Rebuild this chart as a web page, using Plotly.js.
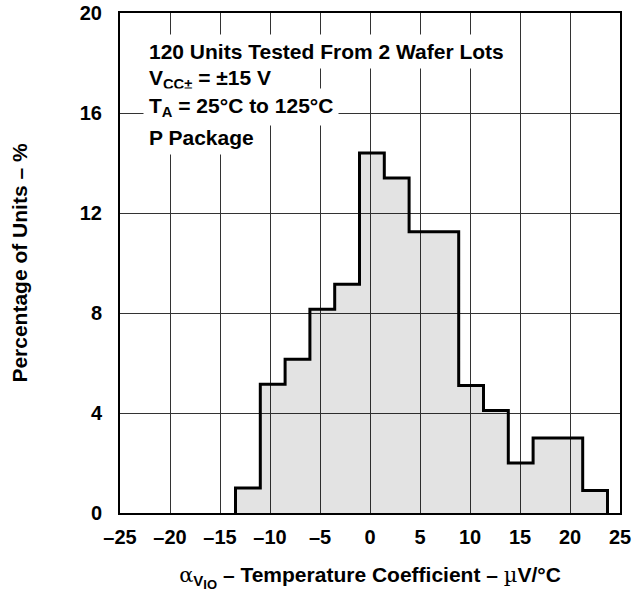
<!DOCTYPE html>
<html>
<head>
<meta charset="utf-8">
<script src="https://cdn.plot.ly/plotly-3.0.1.min.js"></script>
<style>
html,body{margin:0;padding:0;background:#fff;}
#chart{width:636px;height:594px;}
</style>
</head>
<body>
<div id="chart"></div>
<script>
// Histogram bin edges (µV/°C) and percentage of units per bin
const binEdges = [-13.45, -10.97, -8.49, -6.01, -3.53, -1.05, 1.43, 3.91, 6.39, 8.87, 11.35, 13.83, 16.31, 18.79, 21.27, 23.75];
const percentUnits = [1.0, 5.15, 6.15, 8.15, 9.15, 14.4, 13.4, 11.25, 11.25, 5.1, 4.1, 2.0, 3.0, 3.0, 0.9];
const xTickVals = [-25, -20, -15, -10, -5, 0, 5, 10, 15, 20, 25];
const yTickVals = [0, 4, 8, 12, 16, 20];
const noteLines = [
  "120 Units Tested From 2 Wafer Lots",
  "V<sub>CC±</sub> = ±15 V",
  "T<sub>A</sub> = 25°C to 125°C",
  "P Package"
];
const noteY = [0.923, 0.869, 0.813, 0.752];

// build step outline from the bin data
const stepX = [binEdges[0]].concat(binEdges);
const stepY = [0].concat(percentUnits).concat([0]);

const FONT = "Liberation Sans, Arial, Helvetica, sans-serif";
const SERIF = "font-family:'DejaVu Serif',serif;font-weight:normal";

const trace = {
  x: stepX,
  y: stepY,
  type: "scatter",
  mode: "lines",
  line: {shape: "hv", color: "#000", width: 3},
  fill: "tozeroy",
  fillcolor: "rgba(0,0,0,0.11)",
  hoverinfo: "skip"
};

const annotations = noteLines.map((t, i) => ({
  text: "<b>" + t + "</b>",
  xref: "paper", yref: "paper",
  x: 0.046, y: noteY[i],
  xanchor: "left", yanchor: "middle",
  showarrow: false,
  bgcolor: "#fff",
  borderpad: 5,
  font: {family: FONT, size: 21, color: "#000"}
}));

const layout = {
  width: 636, height: 594,
  margin: {l: 120, r: 16, t: 13, b: 81},
  paper_bgcolor: "#fff",
  plot_bgcolor: "#fff",
  showlegend: false,
  font: {family: FONT, color: "#000"},
  xaxis: {
    range: [-25, 25],
    tickvals: xTickVals,
    ticktext: xTickVals.map(v => v < 0 ? "–" + Math.abs(v) : String(v)),
    showgrid: true, gridcolor: "#333", gridwidth: 1,
    zeroline: false,
    showline: true, linecolor: "#000", linewidth: 2, mirror: true,
    ticks: "", ticklabelstandoff: 5,
    tickfont: {family: FONT, size: 20, color: "#000", weight: "bold"},
    title: {
      text: "<span style=\"" + SERIF + "\">α</span><sub><span style=\"font-size:15px\">V</span><sub><span style=\"font-size:13px\">IO</span></sub></sub> – Temperature Coefficient – <span style=\"" + SERIF + "\">µ</span>V/°C",
      font: {family: FONT, size: 21, color: "#000", weight: "bold"},
      standoff: 20
    },
    fixedrange: true
  },
  yaxis: {
    range: [0, 20],
    tickvals: yTickVals,
    showgrid: true, gridcolor: "#333", gridwidth: 1,
    zeroline: false,
    showline: true, linecolor: "#000", linewidth: 2, mirror: true,
    ticks: "", ticklabelstandoff: 12,
    tickfont: {family: FONT, size: 20, color: "#000", weight: "bold"},
    title: {
      text: "Percentage of Units – %",
      font: {family: FONT, size: 21, color: "#000", weight: "bold"},
      standoff: 46
    },
    fixedrange: true
  },
  annotations: annotations
};

Plotly.newPlot("chart", [trace], layout, {displayModeBar: false, staticPlot: true});
</script>
</body>
</html>
